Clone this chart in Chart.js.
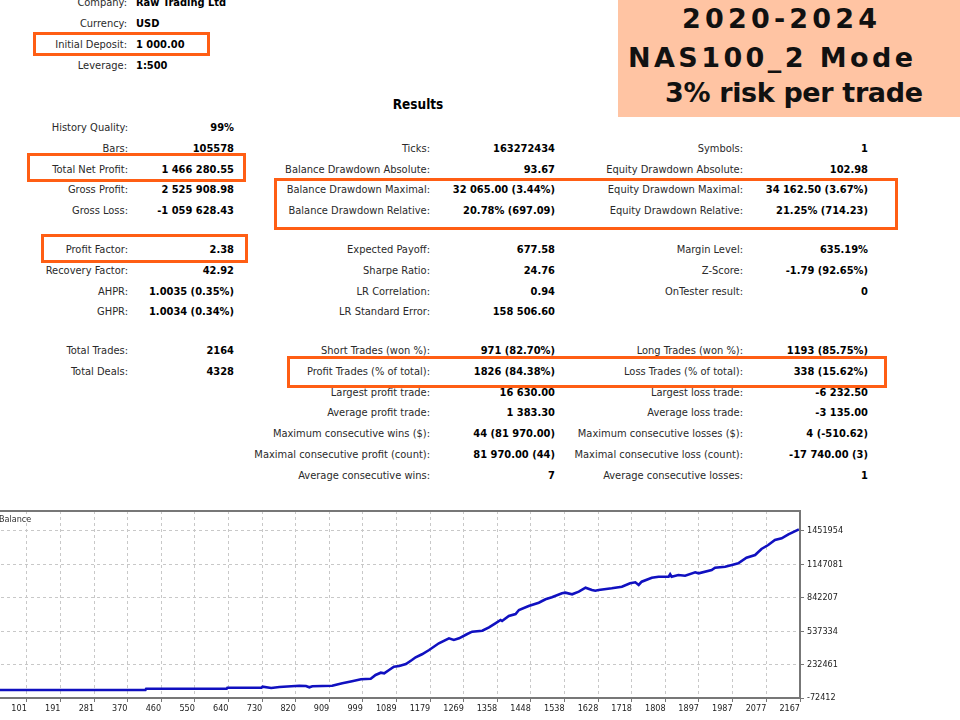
<!DOCTYPE html>
<html><head><meta charset="utf-8">
<script src="https://cdn.jsdelivr.net/npm/chart.js@4.4.0/dist/chart.umd.min.js"></script>
<style>
html,body{margin:0;padding:0;background:#fff;width:960px;height:720px;overflow:hidden;position:relative;}
.t{position:absolute;white-space:pre;font-family:"DejaVu Sans Condensed","DejaVu Sans",sans-serif;font-stretch:condensed;font-size:11px;line-height:11px;color:#2a2a2a;transform:translateY(-50%);}
.b{font-weight:bold;color:#000;}
.box{position:absolute;border:3px solid #ff5e14;box-sizing:border-box;}
#title{position:absolute;left:618px;top:0;width:342px;height:117px;background:#ffc4a3;}
.tl{position:absolute;white-space:pre;font-family:"DejaVu Sans",sans-serif;font-weight:bold;font-size:27px;line-height:27px;color:#111;}
#wrap{position:absolute;left:-11px;top:500px;width:880px;height:220px;}
</style></head><body>
<div id="title"></div>
<div id="wrap"><canvas id="c" width="880" height="220"></canvas></div>
<script>
// ---- chart data (trade number / balance) ----
const balanceTrades = [0,418,420,635,637,728,731,754,776,829,847,856,864,917,944,970,994,1020,1033,1047,1056,1069,1082,1096,1114,1130,1140,1157,1176,1202,1229,1242,1256,1278,1291,1318,1336,1353,1367,1371,1389,1407,1416,1442,1469,1487,1504,1531,1540,1558,1576,1594,1611,1620,1629,1664,1691,1713,1727,1736,1744,1771,1789,1816,1820,1824,1842,1860,1887,1896,1931,1940,1967,1985,2002,2024,2047,2064,2082,2100,2118,2136,2164];
const balanceValues = [1000,1000,12478,12478,21606,21606,30734,18868,27996,39862,37124,25258,34386,39862,61770,80026,98282,103758,137532,158526,153050,183172,213294,219684,237940,274452,299098,326482,365732,426890,472530,457012,472530,511780,532774,541902,572938,609450,639572,630444,676084,694340,730852,767364,797486,828522,846778,883290,888766,874162,897894,934406,913412,907022,913412,928930,943534,974570,983698,959052,989174,1025686,1034814,1034814,1056722,1034814,1050332,1043942,1074978,1065850,1095972,1116966,1126094,1141612,1157130,1208246,1232892,1287660,1324172,1369812,1385330,1421842,1467280];
const xTickValues = [101,191,281,370,460,550,640,730,820,909,999,1089,1179,1269,1358,1448,1538,1628,1718,1808,1897,1987,2077,2167];
const yTickValues = [-72412,232461,537334,842207,1147081,1451954];

// ---- report text ----
const topRows = [[2,'Company:','Raw Trading Ltd'],[23,'Currency:','USD'],[44,'Initial Deposit:','1 000.00'],[65,'Leverage:','1:500']];
const col1 = [[127,'History Quality:','99%'],[148,'Bars:','105578'],[169,'Total Net Profit:','1 466 280.55'],[189,'Gross Profit:','2 525 908.98'],[210,'Gross Loss:','-1 059 628.43'],[249,'Profit Factor:','2.38'],[270,'Recovery Factor:','42.92'],[291,'AHPR:','1.0035 (0.35%)'],[311,'GHPR:','1.0034 (0.34%)'],[350,'Total Trades:','2164'],[371,'Total Deals:','4328']];
const col2 = [[148,'Ticks:','163272434'],[169,'Balance Drawdown Absolute:','93.67'],[189,'Balance Drawdown Maximal:','32 065.00 (3.44%)'],[210,'Balance Drawdown Relative:','20.78% (697.09)'],[249,'Expected Payoff:','677.58'],[270,'Sharpe Ratio:','24.76'],[291,'LR Correlation:','0.94'],[311,'LR Standard Error:','158 506.60'],[350,'Short Trades (won %):','971 (82.70%)'],[371,'Profit Trades (% of total):','1826 (84.38%)'],[392,'Largest profit trade:','16 630.00'],[412,'Average profit trade:','1 383.30'],[433,'Maximum consecutive wins ($):','44 (81 970.00)'],[454,'Maximal consecutive profit (count):','81 970.00 (44)'],[475,'Average consecutive wins:','7']];
const col3 = [[148,'Symbols:','1'],[169,'Equity Drawdown Absolute:','102.98'],[189,'Equity Drawdown Maximal:','34 162.50 (3.67%)'],[210,'Equity Drawdown Relative:','21.25% (714.23)'],[249,'Margin Level:','635.19%'],[270,'Z-Score:','-1.79 (92.65%)'],[291,'OnTester result:','0'],[350,'Long Trades (won %):','1193 (85.75%)'],[371,'Loss Trades (% of total):','338 (15.62%)'],[392,'Largest loss trade:','-6 232.50'],[412,'Average loss trade:','-3 135.00'],[433,'Maximum consecutive losses ($):','4 (-510.62)'],[454,'Maximal consecutive loss (count):','-17 740.00 (3)'],[475,'Average consecutive losses:','1']];
const titleLines = [['2020-2024',682,5,195],['NAS100_2 Mode',628,44,285],['3% risk per trade',665,79,258]];
const boxes = [[33,32,177,24],[27,153,219,29],[41,234,207,29],[274,178,624,52],[287,356,600,32]];

function txt(s,x,y,align,bold,extra){
  const d=document.createElement('div');
  d.className='t'+(bold?' b':'');
  d.textContent=s;
  if(align==='right'){d.style.right=(960-x)+'px';} else if(align==='center'){d.style.left=x+'px';d.style.transform='translate(-50%,-50%)';} else {d.style.left=x+'px';}
  d.style.top=y+'px';
  if(extra) Object.assign(d.style,extra);
  document.body.appendChild(d);
}
topRows.forEach(r=>{txt(r[1],127,r[0],'right');txt(r[2],136,r[0],'left',true);});
col1.forEach(r=>{txt(r[1],128,r[0],'right');txt(r[2],234,r[0],'right',true);});
col2.forEach(r=>{txt(r[1],430,r[0],'right');txt(r[2],555,r[0],'right',true);});
col3.forEach(r=>{txt(r[1],743,r[0],'right');txt(r[2],868,r[0],'right',true);});
txt('Results',418,104,'center',true,{fontSize:'13.5px'});
boxes.forEach(b=>{const d=document.createElement('div');d.className='box';Object.assign(d.style,{left:b[0]+'px',top:b[1]+'px',width:b[2]+'px',height:b[3]+'px'});document.body.appendChild(d);});
titleLines.forEach(l=>{
  const d=document.createElement('div');d.className='tl';d.textContent=l[0];
  d.style.left=l[1]+'px';d.style.top=l[2]+'px';document.body.appendChild(d);
  const w=d.getBoundingClientRect().width;const n=l[0].length;
  d.style.letterSpacing=((l[3]-w)/(n-1))+'px';
});

const framePlugin={id:'frame',
  afterDraw(chart){const {ctx,chartArea:a}=chart;ctx.save();
    ctx.strokeStyle='#777';ctx.lineWidth=2;ctx.strokeRect(a.left,a.top,a.right-a.left,a.bottom-a.top);
    ctx.fillStyle='#333';ctx.font='9px "DejaVu Sans Condensed","DejaVu Sans"';ctx.textBaseline='middle';ctx.textAlign='left';
    ctx.fillText('Balance',a.left+10,a.top+9);ctx.restore();}};

new Chart(document.getElementById('c'),{
  type:'line',
  data:{datasets:[{label:'Balance',data:balanceTrades.map((t,i)=>({x:t,y:balanceValues[i]})),
    borderColor:'#1010c0',borderWidth:2.6,pointRadius:0,tension:0,fill:false}]},
  options:{responsive:false,animation:false,
    layout:{padding:{top:11,left:0,right:0,bottom:0}},
    plugins:{legend:{display:false},tooltip:{enabled:false}},
    scales:{
      x:{type:'linear',min:0,max:2167,
        afterBuildTicks:s=>{s.ticks=xTickValues.map(v=>({value:v}));},
        afterFit:s=>{s.height=22;},
        grid:{color:'#c8c8c8',lineWidth:1,tickLength:4,tickColor:'#777',drawTicks:true},
        border:{display:true,color:'#777',width:2,dash:[3,3]},
        ticks:{align:'end',padding:1,maxRotation:0,autoSkip:false,color:'#222',font:{family:'"DejaVu Sans Condensed","DejaVu Sans"',size:9},callback:v=>String(v)}},
      y:{type:'linear',position:'right',min:-72412,max:1634500,
        afterBuildTicks:s=>{s.ticks=yTickValues.map(v=>({value:v}));},
        afterFit:s=>{s.width=69;},
        grid:{color:'#c8c8c8',lineWidth:1,tickLength:4,tickColor:'#777',drawTicks:true},
        border:{display:true,color:'#777',width:2,dash:[3,3]},
        ticks:{padding:3,autoSkip:false,color:'#222',font:{family:'"DejaVu Sans Condensed","DejaVu Sans"',size:9},callback:v=>String(v)}}
    }},
  plugins:[framePlugin]
});
</script>
</body></html>
